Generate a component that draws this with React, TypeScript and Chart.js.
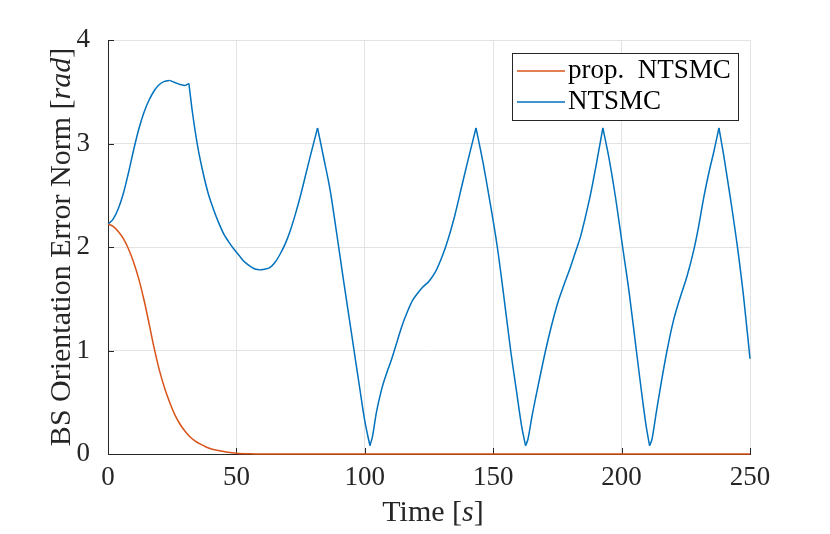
import { useEffect, useRef } from 'react';
import { Chart, registerables, Plugin } from 'chart.js';

Chart.register(...registerables);

// time samples and error norm values
const ntsmcTime = [
    0, 2, 4, 6, 8, 10, 12, 14, 16, 18, 20, 22, 24, 26, 28, 30, 31.5,
    33, 35, 37, 39, 41, 43, 45, 47, 49, 51, 53, 55, 57, 59, 61, 63, 65, 67, 69, 71, 73, 75, 77, 79, 81.6,
    84, 86.5, 89, 91.7, 94, 96, 98, 100, 102,
    103, 104.5, 106.5, 108.5, 110.5, 112.5, 114.5, 116.5, 118.5, 120.5, 122.5, 125, 127.5, 130, 132.5, 135, 137.5, 140, 143.3,
    146, 148.5, 151.6, 154, 156.8, 159, 161, 162.6,
    163.5, 165, 167, 170.4, 172.5, 175, 177.5, 180, 182, 184, 186, 188, 190, 192.7,
    195, 197.5, 200.4, 203, 205.5, 207.5, 209.5, 210.9,
    211.8, 213.5, 215.5, 217.7, 220, 222.9, 225.5, 228.1, 230, 232, 234, 236, 237.9,
    240, 242.5, 245, 247.5, 250,
];
const ntsmcNorm = [
    2.22, 2.27, 2.37, 2.52, 2.72, 2.94, 3.14, 3.30, 3.42, 3.51, 3.57, 3.60, 3.61, 3.59, 3.57, 3.56, 3.58,
    3.28, 2.96, 2.72, 2.52, 2.37, 2.24, 2.13, 2.05, 1.98, 1.92, 1.86, 1.82, 1.79, 1.78, 1.785, 1.80, 1.85, 1.93, 2.03, 2.16, 2.32, 2.50, 2.70, 2.90, 3.15,
    2.86, 2.55, 2.14, 1.68, 1.30, 0.97, 0.64, 0.32, 0.08,
    0.17, 0.40, 0.62, 0.78, 0.92, 1.08, 1.24, 1.37, 1.48, 1.55, 1.61, 1.67, 1.76, 1.90, 2.08, 2.30, 2.56, 2.82, 3.15,
    2.82, 2.47, 2.00, 1.55, 1.00, 0.62, 0.28, 0.08,
    0.14, 0.35, 0.60, 1.00, 1.22, 1.45, 1.63, 1.80, 1.95, 2.10, 2.30, 2.52, 2.78, 3.15,
    2.87, 2.50, 2.00, 1.55, 1.05, 0.65, 0.28, 0.08,
    0.14, 0.40, 0.70, 1.00, 1.27, 1.52, 1.72, 1.97, 2.20, 2.48, 2.72, 2.93, 3.15,
    2.85, 2.45, 2.02, 1.52, 0.92,
];
const propTime = [0, 2, 4, 6, 8, 10, 12, 14, 16, 18, 20, 22, 24, 26, 28, 30, 32, 34, 36, 38, 40, 43, 46, 50, 55, 60, 250];
const propNorm = [
    2.22, 2.20, 2.15, 2.08, 1.98, 1.85, 1.69, 1.49, 1.26, 1.02, 0.81, 0.64, 0.50, 0.38, 0.29, 0.22,
    0.165, 0.125, 0.095, 0.07, 0.05, 0.033, 0.02, 0.008, 0.002, 0, 0,
];
const xTicks = [0, 50, 100, 150, 200, 250];
const yTicks = [0, 1, 2, 3, 4];
const seriesLabels = ['prop.  NTSMC', 'NTSMC'];

const ORANGE = '#D95319';
const BLUE = '#0072BD';
const AXIS = '#262626';
const GRID = '#e3e3e3';
const FONT = '"Liberation Serif", "Times New Roman", serif';

type Part = { text: string; italic?: boolean };

const xTitle: Part[] = [{ text: 'Time [' }, { text: 's', italic: true }, { text: ']' }];
const yTitle: Part[] = [{ text: 'BS Orientation Error Norm [' }, { text: 'rad', italic: true }, { text: ']' }];

// split a series at its turning points so every piece is monotone
// (smooth curves, but sharp peaks like the original)
function monotonePieces(xs: number[], ys: number[]) {
    const pieces: { x: number; y: number }[][] = [];
    let start = 0;
    for (let i = 1; i < ys.length - 1; i++) {
        const a = ys[i] - ys[i - 1];
        const b = ys[i + 1] - ys[i];
        if (a * b < 0) {
            pieces.push(xs.slice(start, i + 1).map((x, k) => ({ x, y: ys[start + k] })));
            start = i;
        }
    }
    pieces.push(xs.slice(start).map((x, k) => ({ x, y: ys[start + k] })));
    return pieces;
}

function drawParts(ctx: CanvasRenderingContext2D, parts: Part[], cx: number, cy: number, rot: number, size: number) {
    ctx.save();
    ctx.translate(cx, cy);
    ctx.rotate(rot);
    ctx.fillStyle = AXIS;
    ctx.textBaseline = 'middle';
    ctx.textAlign = 'left';
    const fontOf = (p: Part) => `${p.italic ? 'italic ' : ''}${size}px ${FONT}`;
    let total = 0;
    parts.forEach(p => { ctx.font = fontOf(p); total += ctx.measureText(p.text).width; });
    let x = -total / 2;
    parts.forEach(p => {
        ctx.font = fontOf(p);
        ctx.fillText(p.text, x, 0);
        x += ctx.measureText(p.text).width;
    });
    ctx.restore();
}

// MATLAB style: ticks point inward
const innerTicks: Plugin = {
    id: 'innerTicks',
    beforeDatasetsDraw(chart) {
        const { ctx, chartArea, scales } = chart;
        ctx.save();
        ctx.strokeStyle = AXIS;
        ctx.lineWidth = 1;
        xTicks.forEach(v => {
            const x = Math.round(scales.x.getPixelForValue(v)) + 0.5;
            ctx.beginPath();
            ctx.moveTo(x, chartArea.bottom);
            ctx.lineTo(x, chartArea.bottom - 6);
            ctx.stroke();
        });
        yTicks.forEach(v => {
            const y = Math.round(scales.y.getPixelForValue(v)) + 0.5;
            ctx.beginPath();
            ctx.moveTo(chartArea.left, y);
            ctx.lineTo(chartArea.left + 6, y);
            ctx.stroke();
        });
        ctx.restore();
    },
};

// legend box in the upper right corner + axis titles with italic units
const boxLegend: Plugin = {
    id: 'boxLegend',
    afterDraw(chart) {
        const { ctx, chartArea } = chart;
        const right = chartArea.right - 12;
        const top = chartArea.top + 13;
        const w = 226;
        const h = 67;
        const left = right - w;
        ctx.save();
        ctx.fillStyle = '#ffffff';
        ctx.fillRect(left, top, w, h);
        ctx.strokeStyle = AXIS;
        ctx.lineWidth = 1;
        ctx.strokeRect(Math.round(left) + 0.5, Math.round(top) + 0.5, w, h);
        const colors = [ORANGE, BLUE];
        ctx.font = `27px ${FONT}`;
        ctx.textBaseline = 'middle';
        ctx.textAlign = 'left';
        seriesLabels.forEach((label, i) => {
            const y = top + 18 + i * 31;
            ctx.strokeStyle = colors[i];
            ctx.lineWidth = 1.5;
            ctx.beginPath();
            ctx.moveTo(left + 5, y);
            ctx.lineTo(left + 53, y);
            ctx.stroke();
            ctx.fillStyle = '#000000';
            ctx.fillText(label, left + 56, y);
        });
        ctx.restore();

        const midX = (chartArea.left + chartArea.right) / 2;
        const midY = (chartArea.top + chartArea.bottom) / 2;
        drawParts(ctx, xTitle, midX + 4, 513, 0, 30);
        drawParts(ctx, yTitle, 62, midY, -Math.PI / 2, 30);
    },
};

export default function App() {
    const canvasRef = useRef<HTMLCanvasElement | null>(null);

    useEffect(() => {
        document.body.style.margin = '0';
        if (!canvasRef.current) return;
        const bluePieces = monotonePieces(ntsmcTime, ntsmcNorm).map((piece, i) => ({
            label: i === 0 ? seriesLabels[1] : '',
            data: piece,
            borderColor: BLUE,
            borderWidth: 1.5,
            pointRadius: 0,
            cubicInterpolationMode: 'monotone' as const,
            clip: false as const,
            order: 2,
        }));
        const chart = new Chart(canvasRef.current, {
            type: 'line',
            data: {
                datasets: [
                    {
                        label: seriesLabels[0],
                        data: propTime.map((t, i) => ({ x: t, y: propNorm[i] })),
                        borderColor: ORANGE,
                        borderWidth: 1.5,
                        pointRadius: 0,
                        cubicInterpolationMode: 'monotone',
                        clip: false,
                        order: 1,
                    },
                    ...bluePieces,
                ],
            },
            options: {
                responsive: false,
                animation: false,
                layout: { padding: { left: 0, top: 40, right: 80, bottom: 0 } },
                plugins: {
                    legend: { display: false },
                    tooltip: { enabled: false },
                },
                scales: {
                    x: {
                        type: 'linear',
                        min: 0,
                        max: 250,
                        afterFit: scale => { scale.height = 80; },
                        ticks: {
                            stepSize: 50,
                            color: AXIS,
                            padding: 8,
                            font: { family: FONT, size: 27 },
                        },
                        grid: { color: GRID, drawTicks: false },
                        border: { color: AXIS, width: 1 },
                    },
                    y: {
                        min: 0,
                        max: 4,
                        afterFit: scale => { scale.width = 108; },
                        ticks: {
                            stepSize: 1,
                            color: AXIS,
                            padding: 18,
                            font: { family: FONT, size: 27 },
                        },
                        grid: { color: GRID, drawTicks: false },
                        border: { color: AXIS, width: 1 },
                    },
                },
            },
            plugins: [innerTicks, boxLegend],
        });
        return () => chart.destroy();
    }, []);

    return (
        <div style={{ width: 830, height: 534, background: '#ffffff' }}>
            <canvas ref={canvasRef} width={830} height={534} style={{ display: 'block' }} />
        </div>
    );
}
